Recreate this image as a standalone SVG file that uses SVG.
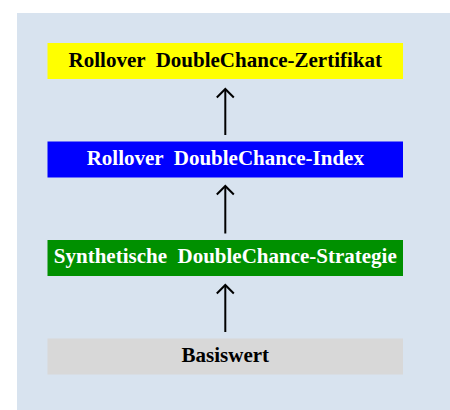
<svg xmlns="http://www.w3.org/2000/svg" width="450" height="410" viewBox="0 0 450 410">
  <defs>
    <style>
      .bg { fill: #d8e3ef; }
      .box text { font-family: "Liberation Serif", "Times New Roman", serif; font-weight: bold; font-size: 21px; text-anchor: middle; white-space: pre; }
      .dark { fill: #000000; }
      .light { fill: #ffffff; }
      .conn { stroke: #000000; stroke-width: 2; fill: none; }
    </style>
    <marker id="head" viewBox="0 0 12 20" refX="10" refY="10" markerWidth="12" markerHeight="20" markerUnits="userSpaceOnUse" orient="auto">
      <path d="M1.5 1.5 L10 10 L1.5 18.5" fill="none" stroke="#000" stroke-width="2"/>
    </marker>
  </defs>
  <rect class="bg" x="17" y="13" width="433" height="397"/>

  <g id="zertifikat" class="box">
    <rect x="47.5" y="43" width="355.5" height="36" fill="#ffff00"/>
    <text class="dark" x="225.3" y="66.5">Rollover  DoubleChance-Zertifikat</text>
  </g>
  <g id="index" class="box">
    <rect x="47.5" y="141.5" width="355.5" height="36" fill="#0000ff"/>
    <text class="light" x="225.3" y="164.5">Rollover  DoubleChance-Index</text>
  </g>
  <g id="strategie" class="box">
    <rect x="47.5" y="240" width="355.5" height="36" fill="#009000"/>
    <text class="light" x="225.3" y="262.5">Synthetische  DoubleChance-Strategie</text>
  </g>
  <g id="basiswert" class="box">
    <rect x="47.5" y="338.5" width="355.5" height="36" fill="#d8d8d8"/>
    <text class="dark" x="225.3" y="361.5">Basiswert</text>
  </g>

  <g id="connectors">
    <path class="conn" d="M225.3 135 V89" marker-end="url(#head)"/>
    <path class="conn" d="M225.3 233.5 V186" marker-end="url(#head)"/>
    <path class="conn" d="M225.3 332 V285" marker-end="url(#head)"/>
  </g>
</svg>
